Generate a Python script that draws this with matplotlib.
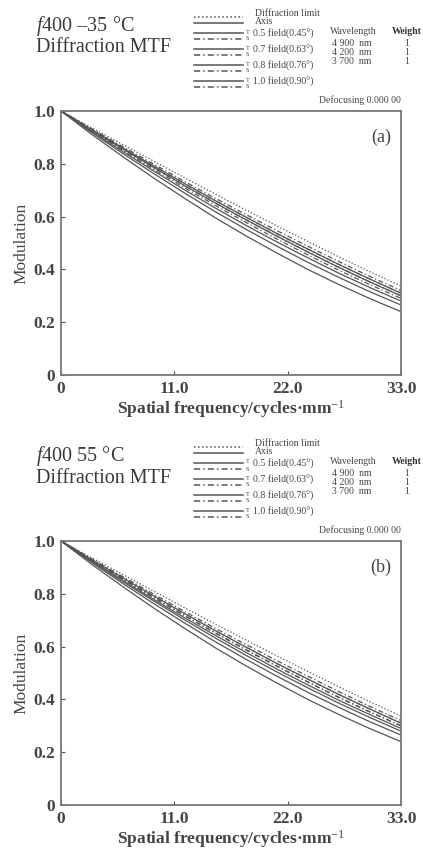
import matplotlib.pyplot as plt
from matplotlib.lines import Line2D

plt.rcParams["font.family"] = ["Liberation Serif", "DejaVu Serif"]
plt.rcParams["mathtext.fontset"] = "custom"
plt.rcParams["mathtext.rm"] = "Liberation Serif"
plt.rcParams["mathtext.it"] = "Liberation Serif:italic"
plt.rcParams["mathtext.bf"] = "Liberation Serif:bold"

freq = [0, 3, 6, 9, 12, 15, 18, 21, 24, 27, 30, 33]

# panel (a), -35 C
diff_a = [1.0, .936, .873, .810, .747, .685, .624, .564, .505, .447, .391, .337]
axis_a = [1.0, .929, .860, .792, .725, .660, .597, .535, .476, .418, .363, .310]
f05t_a = [1.0, .927, .856, .786, .717, .651, .587, .525, .465, .407, .352, .300]
f05s_a = [1.0, .932, .865, .799, .733, .669, .607, .546, .487, .429, .373, .320]
f07t_a = [1.0, .922, .846, .773, .701, .632, .566, .503, .443, .385, .331, .280]
f07s_a = [1.0, .929, .860, .792, .725, .660, .597, .535, .476, .418, .363, .310]
f08t_a = [1.0, .918, .839, .763, .689, .618, .551, .487, .426, .369, .315, .265]
f08s_a = [1.0, .927, .856, .786, .717, .651, .587, .525, .465, .407, .352, .300]
f10t_a = [1.0, .911, .827, .746, .669, .595, .526, .461, .399, .342, .289, .240]
f10s_a = [1.0, .924, .851, .779, .709, .642, .577, .514, .454, .396, .342, .290]

# panel (b), 55 C
diff_b = [1.0, .936, .873, .810, .747, .685, .624, .564, .505, .447, .391, .337]
axis_b = [1.0, .929, .860, .792, .725, .660, .597, .535, .476, .418, .363, .310]
f05t_b = [1.0, .924, .851, .779, .709, .642, .577, .514, .454, .396, .342, .290]
f05s_b = [1.0, .932, .865, .799, .733, .669, .607, .546, .487, .429, .373, .320]
f07t_b = [1.0, .922, .846, .773, .701, .632, .566, .503, .443, .385, .331, .280]
f07s_b = [1.0, .927, .856, .786, .717, .651, .587, .525, .465, .407, .352, .300]
f08t_b = [1.0, .918, .839, .763, .689, .618, .551, .487, .426, .369, .315, .265]
f08s_b = [1.0, .929, .860, .792, .725, .660, .597, .535, .476, .418, .363, .310]
f10t_b = [1.0, .911, .827, .746, .669, .595, .526, .461, .399, .342, .289, .240]
f10s_b = [1.0, .927, .856, .786, .717, .651, .587, .525, .465, .407, .352, .300]

fields = ["0.5 field(0.45°)", "0.7 field(0.63°)", "0.8 field(0.76°)", "1.0 field(0.90°)"]
wavelengths = ["4 900  nm", "4 200  nm", "3 700  nm"]
weights = ["1", "1", "1"]
xticks = [0, 11, 22, 33]
xticklabels = ["0", "11.0", "22.0", "33.0"]
yticks = [0, 0.2, 0.4, 0.6, 0.8, 1.0]
yticklabels = ["0", "0.2", "0.4", "0.6", "0.8", "1.0"]

W, H = 423, 857
col = "#555555"
tcol = "#444444"
fig = plt.figure(figsize=(W / 100, H / 100), dpi=100)


def fx(px):
    return px / W


def fy(py):
    return 1 - py / H


def header(off, temp):
    fig.text(fx(36), fy(26 + off), "$\\mathit{f}$400 " + temp, fontsize=14.5,
             color="#3a3a3a", va="center")
    fig.text(fx(36), fy(48 + off), "Diffraction MTF", fontsize=14.5,
             color="#3a3a3a", va="center")
    # legend samples
    rows = [(17, ":"), (23, "-")]
    for i in range(4):
        rows.append((33 + i * 16, "-"))
        rows.append((39 + i * 16, (0, (4, 2, 1, 2))))
    for yy, ls in rows:
        fig.add_artist(Line2D([fx(194), fx(243)], [fy(yy + off)] * 2,
                              transform=fig.transFigure, color=col, lw=1.1, ls=ls))
    fs = 7
    fig.text(fx(255), fy(13 + off), "Diffraction limit", fontsize=fs, color=tcol, va="center")
    fig.text(fx(255), fy(21 + off), "Axis", fontsize=fs, color=tcol, va="center")
    for i, lab in enumerate(fields):
        y0 = 34 + i * 16
        fig.text(fx(246), fy(y0 - 2 + off), "T", fontsize=4.5, color=tcol, va="center")
        fig.text(fx(246), fy(y0 + 5 + off), "S", fontsize=4.5, color=tcol, va="center")
        fig.text(fx(253), fy(y0 + off), lab, fontsize=fs, color=tcol, va="center")
    fig.text(fx(330), fy(32 + off), "Wavelength", fontsize=fs, color=tcol, va="center")
    fig.text(fx(392), fy(32 + off), "Weight", fontsize=fs, color="#333333",
             va="center", fontweight="bold")
    for i, (wl, wt) in enumerate(zip(wavelengths, weights)):
        fig.text(fx(332), fy(43 + i * 9.5 + off), wl, fontsize=fs, color=tcol, va="center")
        fig.text(fx(404), fy(43 + i * 9.5 + off), wt, fontsize=fs, color=tcol, va="center")
    fig.text(fx(401), fy(100 + off), "Defocusing 0.000 00", fontsize=fs,
             color=tcol, va="center", ha="right")


def panel(off, tag, diff, axis, ft, fs, temp):
    header(off, temp)
    ax = fig.add_axes([fx(61), fy(375 + off), fx(340), 264 / H])
    ax.plot(freq, diff, color=col, lw=0.9, ls=":")
    ax.plot(freq, axis, color=col, lw=0.9, ls="-")
    for t, s in zip(ft, fs):
        ax.plot(freq, t, color=col, lw=0.9, ls="-")
        ax.plot(freq, s, color=col, lw=0.9, ls=(0, (4, 2, 1, 2)))
    ax.set_xlim(0, 33)
    ax.set_ylim(0, 1.0)
    ax.set_xticks(xticks)
    ax.set_xticklabels(xticklabels)
    ax.set_yticks(yticks)
    ax.set_yticklabels(yticklabels)
    ax.tick_params(direction="in", length=3, width=0.8, colors="#555555",
                   labelsize=12.5, labelcolor="#444444", pad=4)
    for lab in ax.get_xticklabels() + ax.get_yticklabels():
        lab.set_fontweight("bold")
    for sp in ax.spines.values():
        sp.set_color("#777777")
        sp.set_linewidth(1.3)
    ax.set_xlabel("Spatial frequency/cycles·mm$^{-1}$", fontsize=12.5,
                  fontweight="bold", color="#444444", labelpad=1)
    ax.set_ylabel("Modulation", fontsize=12.5, color="#444444", labelpad=3)
    ax.text(0.97, 0.9, tag, transform=ax.transAxes, ha="right", va="center",
            fontsize=13, color="#444444")


panel(0, "(a)", diff_a, axis_a, [f05t_a, f07t_a, f08t_a, f10t_a],
      [f05s_a, f07s_a, f08s_a, f10s_a], "\u201335 °C")
panel(430, "(b)", diff_b, axis_b, [f05t_b, f07t_b, f08t_b, f10t_b],
      [f05s_b, f07s_b, f08s_b, f10s_b], "55 °C")

fig.savefig("out.png", dpi=100)
